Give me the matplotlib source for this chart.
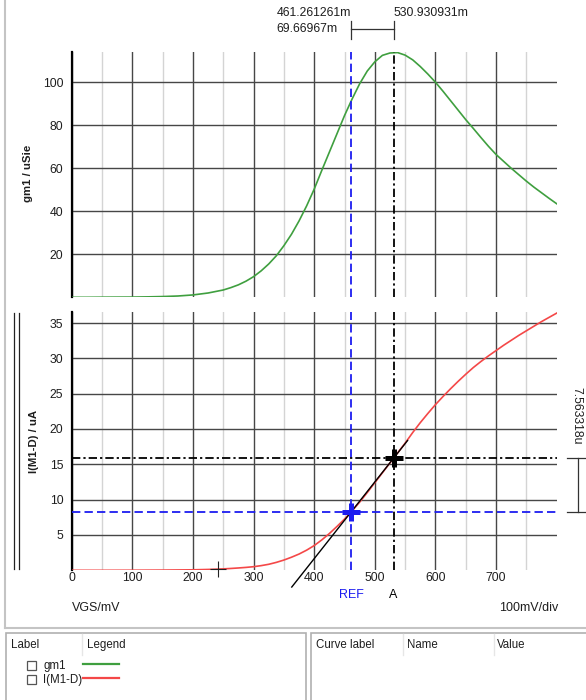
import matplotlib
matplotlib.use('Agg')
import matplotlib.pyplot as plt
from matplotlib.transforms import blended_transform_factory
from matplotlib.patches import Rectangle
from matplotlib.lines import Line2D

plt.rcParams['font.family'] = ['Liberation Sans', 'DejaVu Sans']
plt.rcParams['lines.scale_dashes'] = False

# ---------------- data ----------------
vgs_mv = [0, 25, 50, 75, 100, 125, 150, 175, 200, 225, 250,
          262.5, 275, 287.5, 300, 312.5, 325, 337.5, 350, 362.5, 375, 387.5, 400,
          412.5, 425, 437.5, 450, 462.5, 475, 487.5, 500, 512.5, 525, 537.5, 550,
          562.5, 575, 587.5, 600, 612.5, 625, 637.5, 650, 662.5, 675, 687.5, 700,
          712.5, 725, 737.5, 750, 762.5, 775, 787.5, 800]
gm1_us = [0.0, 0.0, 0.05, 0.08, 0.1, 0.2, 0.35, 0.6, 1.1, 2.0, 3.4,
          4.5, 5.8, 7.5, 9.6, 12.3, 15.5, 19.3, 24.0, 29.3, 35.5, 42.5, 50.3,
          59.0, 67.5, 76.0, 84.5, 92.2, 99.3, 105.2, 109.5, 112.5, 113.6, 113.8, 112.6,
          110.4, 107.3, 103.8, 100.0, 95.8, 91.4, 87.0, 82.6, 78.5, 74.3, 70.2, 66.4,
          63.2, 60.0, 57.0, 54.0, 51.2, 48.6, 46.0, 43.5]
id_ua = [0.0, 0.0, 0.0, 0.005, 0.01, 0.02, 0.03, 0.05, 0.07, 0.12, 0.2,
         0.26, 0.33, 0.41, 0.51, 0.66, 0.85, 1.12, 1.45, 1.85, 2.3, 2.85, 3.5,
         4.3, 5.2, 6.2, 7.25, 8.4, 9.65, 11.0, 12.4, 13.8, 15.2, 16.6, 18.0,
         19.5, 20.9, 22.2, 23.45, 24.6, 25.7, 26.75, 27.75, 28.7, 29.55, 30.35, 31.1,
         31.85, 32.55, 33.25, 33.9, 34.55, 35.2, 35.8, 36.4]

x_ticks = [0, 100, 200, 300, 400, 500, 600, 700]
x_minor = [50, 150, 250, 350, 450, 550, 650, 750]
gm_ticks = [20, 40, 60, 80, 100]
id_ticks = [5, 10, 15, 20, 25, 30, 35]

REF_X = 461.261261
A_X = 530.930931
REF_Y = 8.3
DELTA_Y = 7.563318
A_Y = REF_Y + DELTA_Y
TAN_X = [363, 554]
MARK_X, MARK_Y = 242, 0.2

top_texts = ["461.261261m", "530.930931m", "69.66967m"]
delta_text = "7.563318u"

GREEN = '#3f9f3f'
RED = '#f44848'
BLUE = '#1c1cf0'
MAJ = '#474747'
MINC = '#d4d4d4'
TXT = '#1e1e1e'

W, H = 586, 700
fig = plt.figure(figsize=(W / 100, H / 100), dpi=100)


def fx(px):
    return px / W


def fy(py):
    return 1 - py / H


L, R = 71.7, 556.7
ax1 = fig.add_axes([fx(L), fy(297.3), (R - L) / W, (297.3 - 51.7) / H])
ax2 = fig.add_axes([fx(L), fy(570.3), (R - L) / W, (570.3 - 311.7) / H])

for ax in (ax1, ax2):
    ax.set_xlim(0, 800)
    for s in ('top', 'right', 'bottom'):
        ax.spines[s].set_visible(False)
    ax.spines['left'].set_linewidth(1.6)
    ax.spines['left'].set_color('black')
    ax.set_xticks(x_ticks)
    ax.set_xticks(x_minor, minor=True)
    ax.tick_params(axis='both', which='both', length=0, labelsize=8.8, colors=TXT)
    ax.tick_params(axis='y', pad=6.0)
    ax.set_axisbelow(True)
    ax.grid(which='major', color=MAJ, lw=1.0)
    ax.grid(which='minor', axis='x', color=MINC, lw=1.0)

ax1.set_ylim(0, 114.2)
ax1.set_yticks(gm_ticks)
ax1.tick_params(axis='x', labelbottom=False)
ax2.set_ylim(0, 36.6)
ax2.set_yticks(id_ticks)
ax2.tick_params(axis='x', pad=1.2)

ax1.plot(vgs_mv, gm1_us, color=GREEN, lw=1.2, zorder=3)
ax2.plot(vgs_mv, id_ua, color=RED, lw=1.2, zorder=3)

dash_b = (0, (6, 3))
dash_k = (0, (6, 2.2, 1.6, 2.2))
for ax in (ax1, ax2):
    ax.axvline(REF_X, color=BLUE, ls=dash_b, lw=1.3, zorder=4)
    ax.axvline(A_X, color='black', ls=dash_k, lw=1.3, zorder=4)
ax2.axhline(REF_Y, color=BLUE, ls=dash_b, lw=1.3, zorder=4)
ax2.axhline(A_Y, color='black', ls=dash_k, lw=1.3, zorder=4)

# tangent through both cursor points
slope = DELTA_Y / (A_X - REF_X)
tan_y = [REF_Y + slope * (x - REF_X) for x in TAN_X]
ax2.plot(TAN_X, tan_y, color='black', lw=1.0, clip_on=False, zorder=5)

ax2.plot(REF_X, REF_Y, marker='+', ms=13, mew=3.6, color=BLUE, zorder=6)
ax2.plot(A_X, A_Y, marker='+', ms=13, mew=3.6, color='black', zorder=6)
ax2.plot(MARK_X, MARK_Y, marker='+', ms=11, mew=0.8, color='#222222', zorder=6, clip_on=False)

# cursor labels under plot
tb = blended_transform_factory(ax2.transData, ax2.transAxes)
ax2.text(REF_X, -0.0955, 'REF', color=BLUE, ha='center', va='center', fontsize=9, transform=tb)
ax2.text(A_X, -0.0955, 'A', color='black', ha='center', va='center', fontsize=9, transform=tb)

fig.text(fx(71.7), fy(608.3), 'VGS/mV', ha='left', va='center', fontsize=9, color=TXT)
fig.text(fx(558.3), fy(608.3), '100mV/div', ha='right', va='center', fontsize=9, color=TXT)

fig.text(fx(28), fy(173), 'gm1 / uSie', rotation=90, ha='center', va='center', fontsize=8.2,
         fontweight='bold', color=TXT)
fig.text(fx(33.6), fy(441), 'I(M1-D) / uA', rotation=90, ha='center', va='center', fontsize=8.2,
         fontweight='bold', color=TXT)

# top delta annotation
tt = blended_transform_factory(ax1.transData, ax1.transAxes)
for xv in (REF_X, A_X):
    ax1.add_line(Line2D([xv, xv], [1.0505, 1.1262], color='#333333', lw=0.9, transform=tt, clip_on=False))
ax1.add_line(Line2D([REF_X, A_X], [1.0912, 1.0912], color='#333333', lw=0.9, transform=tt, clip_on=False))
t1 = ax1.text(REF_X, 1.1564, top_texts[0], ha='right', va='center', fontsize=8.8, color=TXT, transform=tt)
ax1.text(A_X, 1.1564, top_texts[1], ha='left', va='center', fontsize=8.8, color=TXT, transform=tt)
fig.canvas.draw()
bb = t1.get_window_extent()
x_left = ax1.transData.inverted().transform((bb.x0, 0))[0]
ax1.text(x_left, 1.0912, top_texts[2], ha='left', va='center', fontsize=8.8, color=TXT, transform=tt)

# right delta annotation
tr = blended_transform_factory(ax2.transAxes, ax2.transData)
ax2.add_line(Line2D([1.0446, 1.0446], [REF_Y, A_Y], color='#333333', lw=0.9, transform=tr, clip_on=False))
for yv in (REF_Y, A_Y):
    ax2.add_line(Line2D([1.0212, 1.0604], [yv, yv], color='#333333', lw=0.9, transform=tr, clip_on=False))
fig.text(fx(576.7), fy(416), delta_text, rotation=270, ha='center', va='center', fontsize=8.8, color=TXT)

# double bar left of lower plot
for px in (13.8, 18.7):
    fig.add_artist(Line2D([fx(px), fx(px)], [fy(313), fy(569)], color='#222222', lw=0.9))

# window borders
fig.add_artist(Line2D([fx(5), fx(5)], [fy(0), fy(628)], color='#c4c4c4', lw=1.5))
fig.add_artist(Line2D([fx(5), fx(586)], [fy(628), fy(628)], color='#c4c4c4', lw=1.5))

# bottom panels
fig.add_artist(Rectangle((fx(5.5), fy(702)), fx(306) - fx(5.5), (702 - 633) / H,
                         facecolor='white', edgecolor='#b0b0b0', lw=1.2))
fig.add_artist(Rectangle((fx(310.7), fy(702)), fx(590) - fx(310.7), (702 - 633) / H,
                         facecolor='white', edgecolor='#b0b0b0', lw=1.2))
for px in (82.3, 403.3, 494):
    fig.add_artist(Line2D([fx(px), fx(px)], [fy(634), fy(655)], color='#e6e6e6', lw=1.0))

hdr = [('Label', 10.7), ('Legend', 86.7), ('Curve label', 316), ('Name', 406.7), ('Value', 497.3)]
for s, px in hdr:
    fig.text(fx(px), fy(645), s, ha='left', va='center', fontsize=8.3, color=TXT)

legend_rows = [('gm1', GREEN, 665.5), ('I(M1-D)', RED, 679.5)]
for name, col, py in legend_rows:
    fig.add_artist(Rectangle((fx(26.7), fy(py + 4.5)), 9 / W, 9 / H, facecolor='white',
                             edgecolor='#555555', lw=0.9))
    fig.text(fx(43), fy(py), name, ha='left', va='center', fontsize=8.3, color=TXT)
    fig.add_artist(Line2D([fx(82.7), fx(119.3)], [fy(py - 1.5), fy(py - 1.5)], color=col, lw=1.6))

fig.savefig('out.png', dpi=100)
